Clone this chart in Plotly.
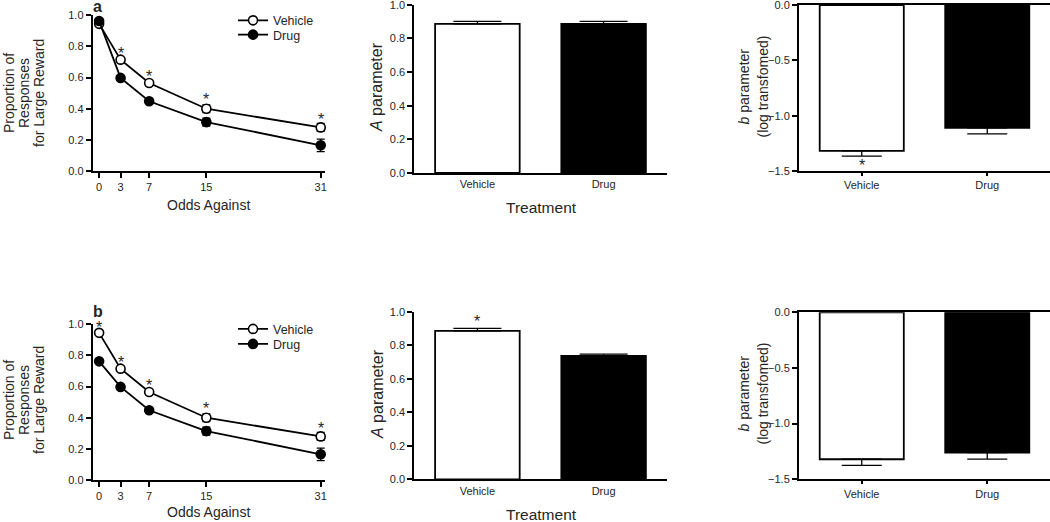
import plotly.graph_objects as go

# ---------------- data ----------------
odds = [0, 3, 7, 15, 31]
odds_ticks = [0, 3, 7, 15, 31]

# panel a
veh_a = [0.945, 0.715, 0.565, 0.40, 0.28]
veh_a_err = [0.01, 0.01, 0.012, 0.025, 0.025]
drug_a = [0.963, 0.598, 0.448, 0.314, 0.165]
drug_a_err = [0.01, 0.01, 0.015, 0.025, 0.04]
stars_a_x = [3, 7, 15, 31]
stars_a_y = [0.776, 0.628, 0.476, 0.348]

# panel b
veh_b = [0.945, 0.715, 0.565, 0.40, 0.28]
veh_b_err = [0.01, 0.01, 0.012, 0.025, 0.025]
drug_b = [0.762, 0.598, 0.448, 0.314, 0.165]
drug_b_err = [0.01, 0.01, 0.015, 0.025, 0.04]
stars_b_x = [0, 3, 7, 15, 31]
stars_b_y = [1.0, 0.776, 0.628, 0.476, 0.348]

treatments = ["Vehicle", "Drug"]
A_a = [0.886, 0.886]
A_a_err = [0.015, 0.015]
A_b = [0.886, 0.737]
A_b_err = [0.015, 0.01]
A_b_star_y = [0.96]

b_a = [-1.318, -1.111]
b_a_err = [0.048, 0.054]
b_a_star_y = [-1.42]
b_b = [-1.320, -1.261]
b_b_err = [0.055, 0.057]

LEFT_RANGE = [0, 1.0]
MID_RANGE = [0, 1.0]
RIGHT_RANGE = [-1.5, 0]

left_title_lines = ["Proportion of", "Responses", "for Large Reward"]
right_title_lines = ["<i>b</i> parameter", "(log transfomed)"]

# ---------------- style ----------------
FONT = "Liberation Sans, Arial, sans-serif"
TXT = "#262626"
W, H = 1050, 522


def px_x(p):
    return p / W


def px_y(p):
    return (H - p) / H


def frac(v, r):
    return (v - r[0]) / (r[1] - r[0])


fig = go.Figure()


def add_lines(xa, ya, veh, veh_err, drug, drug_err, leg_v, leg_d):
    fig.add_trace(go.Scatter(
        x=odds, y=veh, mode="lines+markers", name="Vehicle",
        xaxis=xa, yaxis=ya, legend=leg_v,
        line=dict(color="black", width=1.8),
        marker=dict(symbol="circle", size=9, color="white",
                    line=dict(color="black", width=1.6)),
        error_y=dict(type="data", array=veh_err, color="black",
                     thickness=1.3, width=4),
        cliponaxis=False,
    ))
    fig.add_trace(go.Scatter(
        x=odds, y=drug, mode="lines+markers", name="Drug",
        xaxis=xa, yaxis=ya, legend=leg_d,
        line=dict(color="black", width=1.8),
        marker=dict(symbol="circle", size=9, color="black",
                    line=dict(color="black", width=1.6)),
        error_y=dict(type="data", array=drug_err, color="black",
                     thickness=1.3, width=4),
        cliponaxis=False,
    ))


def add_bars(xa, ya, vals, errs, negative, cap):
    for i, t in enumerate(treatments):
        fig.add_trace(go.Bar(
            x=[t], y=[vals[i]], xaxis=xa, yaxis=ya, showlegend=False,
            width=0.67,
            marker=dict(color="white" if i == 0 else "black",
                        line=dict(color="black", width=1.8)),
            error_y=dict(type="data", symmetric=False,
                         array=[0] if negative else [errs[i]],
                         arrayminus=[errs[i]] if negative else [0],
                         color="black", thickness=1.3, width=cap),
            cliponaxis=False,
        ))


add_lines("x", "y", veh_a, veh_a_err, drug_a, drug_a_err,
          "legend", "legend2")
add_bars("x2", "y2", A_a, A_a_err, False, 24)
add_bars("x3", "y3", b_a, b_a_err, True, 20)
add_lines("x4", "y4", veh_b, veh_b_err, drug_b, drug_b_err,
          "legend3", "legend4")
add_bars("x5", "y5", A_b, A_b_err, False, 24)
add_bars("x6", "y6", b_b, b_b_err, True, 20)

# ---------------- axes ----------------
tickfont = dict(family=FONT, size=11, color=TXT)
common = dict(showline=True, linewidth=2, linecolor="black",
              showgrid=False, zeroline=False, tickfont=tickfont,
              automargin=False, tickcolor="black", tickwidth=1.5,
              ticklabeloverflow="allow")

left_x = dict(common, range=[-0.9, 31.6], tickvals=odds_ticks,
              ticks="outside", ticklen=5)
left_y = dict(common, range=LEFT_RANGE, dtick=0.2, tickformat=".1f",
              ticks="outside", ticklen=5)
mid_x = dict(common, range=[-0.5, 1.5], ticks="", type="category")
mid_y = dict(common, range=MID_RANGE, dtick=0.2, tickformat=".1f",
             ticks="outside", ticklen=5)
right_x = dict(common, range=[-0.5, 1.5], mirror=True, ticks="outside",
               ticklen=3, type="category")
right_y = dict(common, range=RIGHT_RANGE, dtick=0.5, tickformat=".1f",
               ticks="outside", ticklen=5)

LX = [px_x(92.7), px_x(325)]
MX = [px_x(414.3), px_x(666.7)]
RX = [px_x(799), 1.0]

fig.update_layout(
    xaxis=dict(left_x, domain=LX, anchor="y"),
    yaxis=dict(left_y, domain=[px_y(171), px_y(15.3)], anchor="x"),
    xaxis2=dict(mid_x, domain=MX, anchor="y2"),
    yaxis2=dict(mid_y, domain=[px_y(173), px_y(4.7)], anchor="x2"),
    xaxis3=dict(right_x, domain=RX, anchor="y3"),
    yaxis3=dict(right_y, domain=[px_y(171), px_y(5)], anchor="x3"),
    xaxis4=dict(left_x, domain=LX, anchor="y4"),
    yaxis4=dict(left_y, domain=[px_y(480), px_y(324.3)], anchor="x4"),
    xaxis5=dict(mid_x, domain=MX, anchor="y5"),
    yaxis5=dict(mid_y, domain=[px_y(479.3), px_y(311.7)], anchor="x5"),
    xaxis6=dict(right_x, domain=RX, anchor="y6"),
    yaxis6=dict(right_y, domain=[px_y(479.3), px_y(312.3)], anchor="x6"),
)

legend_style = dict(font=dict(family=FONT, size=12.5, color=TXT),
                    bgcolor="rgba(0,0,0,0)", borderwidth=0,
                    itemwidth=30, tracegroupgap=0,
                    xanchor="left", yanchor="middle")
LEG_X = px_x(233)
fig.update_layout(
    legend=dict(legend_style, x=LEG_X, y=px_y(20.7)),
    legend2=dict(legend_style, x=LEG_X, y=px_y(35)),
    legend3=dict(legend_style, x=LEG_X, y=px_y(329.3)),
    legend4=dict(legend_style, x=LEG_X, y=px_y(344.3)),
)

# ---------------- annotations ----------------
ann = []


def txt(x, y, text, size, xref="paper", yref="paper", angle=0, **kw):
    ann.append(dict(x=x, y=y, xref=xref, yref=yref, text=text,
                    showarrow=False, textangle=angle,
                    xanchor="center", yanchor="middle",
                    font=dict(family=FONT, size=size, color=TXT), **kw))


# panel letters
txt(px_x(97), px_y(6.5), "<b>a</b>", 16)
txt(px_x(98.3), px_y(312), "<b>b</b>", 16)

# axis titles
for top in (0, 307):
    txt(px_x(208.8), px_y(205 + top), "Odds Against", 14)
    for xc, line in zip((9, 24, 39), left_title_lines):
        txt(px_x(xc), px_y(93 + top), line, 14, angle=-90)
    txt(px_x(541), px_y(207 + top), "Treatment", 15.5)
    txt(px_x(377), px_y(87 + top), "<i>A</i> parameter", 16, angle=-90)
    for xc, line in zip((743.5, 762.5), right_title_lines):
        txt(px_x(xc), px_y(87 + top), line, 14, angle=-90)

# significance stars (vertical position via axis domain fraction)
for x, y in zip(stars_a_x, stars_a_y):
    txt(x, frac(y, LEFT_RANGE), "*", 16, xref="x", yref="y domain",
        yshift=-3)
for x, y in zip(stars_b_x, stars_b_y):
    txt(x, frac(y, LEFT_RANGE), "*", 16, xref="x4", yref="y4 domain",
        yshift=-3)
txt(0, frac(A_b_star_y[0], MID_RANGE), "*", 16, xref="x5",
    yref="y5 domain", yshift=-3)
txt(0, frac(b_a_star_y[0], RIGHT_RANGE), "*", 16, xref="x3",
    yref="y3 domain", yshift=-3)

fig.update_layout(
    template="none",
    annotations=ann,
    width=W, height=H,
    margin=dict(l=0, r=0, t=0, b=0, autoexpand=False),
    paper_bgcolor="white", plot_bgcolor="white",
    font=dict(family=FONT, color=TXT),
    barmode="overlay",
)

fig.write_html(
    "out.html",
    config={"displayModeBar": False},
    post_script="document.body.style.margin='0';"
                "document.body.style.overflow='hidden';",
)
